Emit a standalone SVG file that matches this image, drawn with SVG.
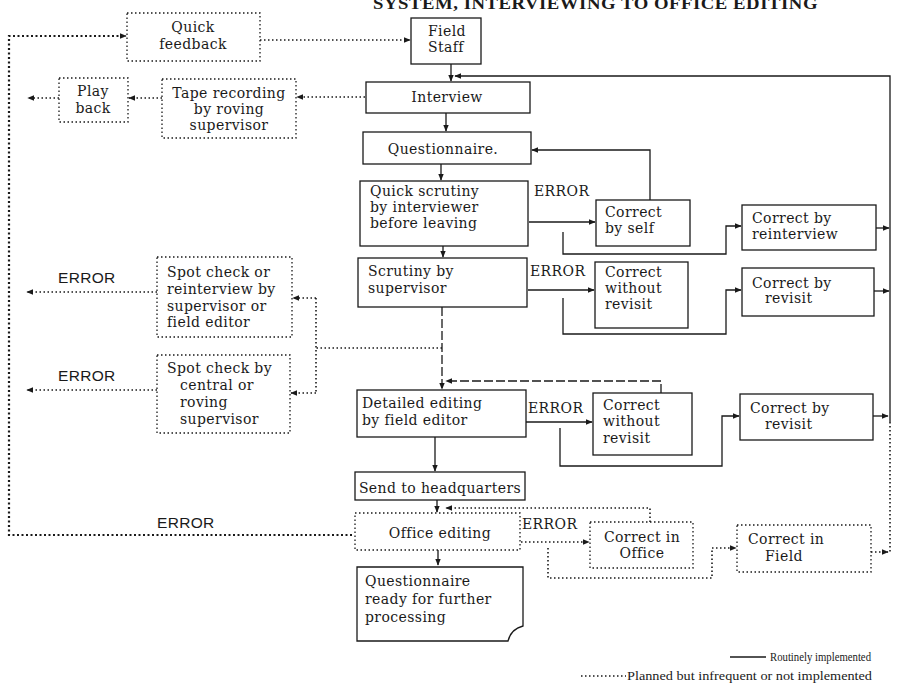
<svg xmlns="http://www.w3.org/2000/svg" width="898" height="686" viewBox="0 0 898 686">
<defs>
<marker id="ah" viewBox="0 0 10 10" refX="9" refY="5" markerWidth="7" markerHeight="7" markerUnits="userSpaceOnUse" orient="auto"><path d="M0,1 L10,5 L0,9 z" fill="#1a1a1a"/></marker>
<style>
.bs{fill:#fff;stroke:#1a1a1a;stroke-width:1.3}
.bd{fill:#fff;stroke:#1a1a1a;stroke-width:1.3;stroke-dasharray:1.5 2.5}
.ls{fill:none;stroke:#1a1a1a;stroke-width:1.3}
.ld{fill:none;stroke:#1a1a1a;stroke-width:1.6;stroke-dasharray:1.5 2.5}
.lk{fill:none;stroke:#1a1a1a;stroke-width:2.2;stroke-dasharray:2 2.5}
.lm{fill:none;stroke:#1a1a1a;stroke-width:1.3;stroke-dasharray:9 3}
text{font-family:"DejaVu Serif","Liberation Serif",serif;font-size:14px;fill:#1a1a1a;letter-spacing:0.4px}
.c{text-anchor:middle}
.e{font-family:"Liberation Sans",Arial,sans-serif;font-size:15.5px;letter-spacing:0.3px}
.t{font-family:"Liberation Serif","Times New Roman",serif;font-weight:bold;font-size:17px;letter-spacing:0.5px}
.lg{font-family:"Liberation Serif","Times New Roman",serif;font-size:13px;letter-spacing:0}
</style>
</defs>
<rect width="898" height="686" fill="#fff"/>
<text class="t" x="373" y="9" textLength="445" lengthAdjust="spacingAndGlyphs">SYSTEM, INTERVIEWING TO OFFICE EDITING</text>

<g id="connectors">
<path class="ls" d="M451,64 V81" marker-end="url(#ah)"/>
<path class="ls" d="M890,422 V76 H455" marker-end="url(#ah)"/>
<path class="ls" d="M446,113 V131" marker-end="url(#ah)"/>
<path class="ls" d="M441,164 V180" marker-end="url(#ah)"/>
<path class="ls" d="M443,246 V257" marker-end="url(#ah)"/>
<path class="ls" d="M529,222 H595" marker-end="url(#ah)"/>
<path class="ls" d="M650,200 V150 H532" marker-end="url(#ah)"/>
<path class="ls" d="M563,232 V254 H726 V226 H741" marker-end="url(#ah)"/>
<path class="ls" d="M876,228 H889" marker-end="url(#ah)"/>
<path class="ls" d="M528,290 H594" marker-end="url(#ah)"/>
<path class="ls" d="M563,298 V334 H726 V290 H741" marker-end="url(#ah)"/>
<path class="ls" d="M874,291 H889" marker-end="url(#ah)"/>
<path class="lm" d="M442,307 V389" marker-end="url(#ah)"/>
<path class="lm" d="M661,393 V381 H446" marker-end="url(#ah)"/>
<path class="ls" d="M526,422 H592" marker-end="url(#ah)"/>
<path class="ls" d="M560,428 V466 H722 V416 H739" marker-end="url(#ah)"/>
<path class="ls" d="M873,416 H888" marker-end="url(#ah)"/>
<path class="ls" d="M435,437 V471" marker-end="url(#ah)"/>
<path class="ls" d="M437,500 V512" marker-end="url(#ah)"/>
<path class="ls" d="M438,550 V565" marker-end="url(#ah)"/>
<path class="ld" d="M260,40 H410" marker-end="url(#ah)"/>
<path class="lk" d="M352,535 H9 V36 H126" marker-end="url(#ah)"/>
<path class="ld" d="M365,97 H297" marker-end="url(#ah)"/>
<path class="ld" d="M162,98 H129" marker-end="url(#ah)"/>
<path class="ld" d="M59,98 H28" marker-end="url(#ah)"/>
<path class="ld" d="M442,348 H316"/>
<path class="ld" d="M316,298 V393"/>
<path class="ld" d="M316,298 H293" marker-end="url(#ah)"/>
<path class="ld" d="M316,393 H291" marker-end="url(#ah)"/>
<path class="ld" d="M157,292 H27" marker-end="url(#ah)"/>
<path class="ld" d="M157,390 H27" marker-end="url(#ah)"/>
<path class="ld" d="M890,422 V553"/>
<path class="ld" d="M521,542 H589" marker-end="url(#ah)"/>
<path class="ld" d="M650,522 V508 H446" marker-end="url(#ah)"/>
<path class="ld" d="M548,548 V578 H712 V548 H736" marker-end="url(#ah)"/>
<path class="ld" d="M871,552 H888" marker-end="url(#ah)"/>
</g>

<g id="quick-feedback"><rect class="bd" x="127" y="13" width="133" height="48"/><text class="c" x="193" y="32">Quick</text><text class="c" x="193" y="49">feedback</text></g>
<g id="field-staff"><rect class="bs" x="411" y="18" width="70" height="46"/><text x="428" y="36">Field</text><text x="428" y="52">Staff</text></g>
<g id="interview"><rect class="bs" x="366" y="82" width="164" height="31"/><text class="c" x="447" y="102">Interview</text></g>
<g id="tape-recording"><rect class="bd" x="162" y="79" width="134" height="59"/><text class="c" x="229" y="98">Tape recording</text><text class="c" x="229" y="114">by roving</text><text class="c" x="229" y="130">supervisor</text></g>
<g id="play-back"><rect class="bd" x="59" y="78" width="69" height="44"/><text class="c" x="93" y="96">Play</text><text class="c" x="93" y="113">back</text></g>
<g id="questionnaire"><rect class="bs" x="363" y="132" width="168" height="32"/><text class="c" x="443" y="154">Questionnaire.</text></g>
<g id="quick-scrutiny"><rect class="bs" x="360" y="181" width="168" height="65"/><text x="370" y="196">Quick scrutiny</text><text x="370" y="212">by interviewer</text><text x="370" y="228">before leaving</text></g>
<g id="scrutiny-supervisor"><rect class="bs" x="358" y="258" width="169" height="49"/><text x="368" y="276">Scrutiny by</text><text x="368" y="293">supervisor</text></g>
<g id="correct-by-self"><rect class="bs" x="596" y="200" width="94" height="46"/><text x="605" y="217">Correct</text><text x="605" y="233">by self</text></g>
<g id="correct-by-reinterview"><rect class="bs" x="742" y="205" width="134" height="45"/><text x="752" y="223">Correct by</text><text x="752" y="239">reinterview</text></g>
<g id="correct-without-revisit-1"><rect class="bs" x="595" y="262" width="93" height="66"/><text x="605" y="277">Correct</text><text x="605" y="293">without</text><text x="605" y="309">revisit</text></g>
<g id="correct-by-revisit-1"><rect class="bs" x="742" y="268" width="132" height="48"/><text x="752" y="288">Correct by</text><text x="765" y="303">revisit</text></g>
<g id="spot-check-reinterview"><rect class="bd" x="157" y="257" width="135" height="80"/><text x="167" y="277">Spot check or</text><text x="167" y="294">reinterview by</text><text x="167" y="311">supervisor or</text><text x="167" y="327">field editor</text></g>
<g id="spot-check-central"><rect class="bd" x="157" y="355" width="133" height="78"/><text x="167" y="373">Spot check by</text><text x="180" y="390">central or</text><text x="180" y="407">roving</text><text x="180" y="424">supervisor</text></g>
<g id="detailed-editing"><rect class="bs" x="357" y="390" width="169" height="47"/><text x="362" y="408">Detailed editing</text><text x="362" y="425">by field editor</text></g>
<g id="correct-without-revisit-2"><rect class="bs" x="593" y="393" width="99" height="62"/><text x="603" y="410">Correct</text><text x="603" y="426">without</text><text x="603" y="443">revisit</text></g>
<g id="correct-by-revisit-2"><rect class="bs" x="740" y="394" width="133" height="46"/><text x="750" y="413">Correct by</text><text x="765" y="429">revisit</text></g>
<g id="send-to-hq"><rect class="bs" x="355" y="472" width="170" height="28"/><text class="c" x="440" y="493">Send to headquarters</text></g>
<g id="office-editing"><rect class="bd" x="355" y="513" width="165" height="37"/><text class="c" x="440" y="538">Office editing</text></g>
<g id="correct-in-office"><rect class="bd" x="590" y="522" width="103" height="46"/><text class="c" x="642" y="542">Correct in</text><text class="c" x="642" y="558">Office</text></g>
<g id="correct-in-field"><rect class="bd" x="737" y="525" width="134" height="47"/><text x="748" y="544">Correct in</text><text x="765" y="561">Field</text></g>
<g id="questionnaire-ready"><path class="bs" d="M357,567 H523 V626 Q511,629 508,641 H357 Z"/><text x="365" y="586">Questionnaire</text><text x="365" y="604">ready for further</text><text x="365" y="622">processing</text></g>

<g id="labels">
<text x="534" y="196">ERROR</text>
<text x="530" y="276">ERROR</text>
<text x="528" y="413">ERROR</text>
<text x="522" y="529">ERROR</text>
<text class="e" x="58" y="283">ERROR</text>
<text class="e" x="58" y="381">ERROR</text>
<text class="e" x="157" y="528">ERROR</text>
</g>

<g id="legend">
<path class="ls" d="M730,657 H766"/>
<text class="lg" x="770" y="661" textLength="101" lengthAdjust="spacingAndGlyphs">Routinely implemented</text>
<path class="ld" d="M581,676 H626"/>
<text class="lg" x="627" y="680" textLength="245" lengthAdjust="spacingAndGlyphs">Planned but infrequent or not implemented</text>
</g>
</svg>
